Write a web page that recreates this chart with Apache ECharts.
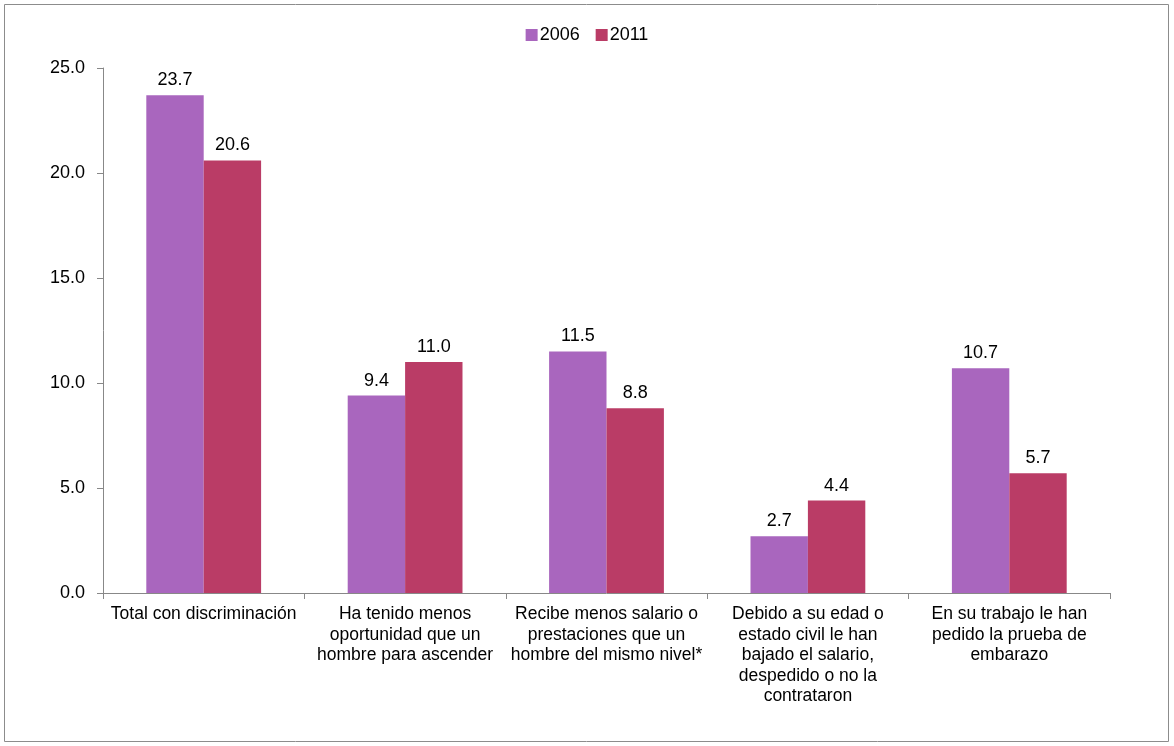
<!DOCTYPE html>
<html><head><meta charset="utf-8">
<script src="https://cdn.jsdelivr.net/npm/echarts@6/dist/echarts.min.js"></script>
<style>html,body{margin:0;padding:0;background:#fff}#c{width:1174px;height:746px}</style>
</head><body><div id="c"></div>
<script>
const categories = [
  "Total con discriminación",
  "Ha tenido menos\noportunidad que un\nhombre para ascender",
  "Recibe menos salario o\nprestaciones que un\nhombre del mismo nivel*",
  "Debido a su edad o\nestado civil le han\nbajado el salario,\ndespedido o no la\ncontrataron",
  "En su trabajo le han\npedido la prueba de\nembarazo"
];
const series2006 = [23.7, 9.4, 11.5, 2.7, 10.7];
const series2011 = [20.6, 11.0, 8.8, 4.4, 5.7];
const yTicks = [0, 5, 10, 15, 20, 25];

const font = "Liberation Sans, Arial, sans-serif";
const chart = echarts.init(document.getElementById('c'), null, {renderer: 'canvas'});
const lbl = {show: true, position: 'top', distance: 6, fontFamily: font, fontSize: 18, color: '#000', formatter: p => p.value.toFixed(1)};
chart.setOption({
  animation: false,
  graphic: [{type: 'rect', shape: {x: 4.5, y: 4.5, width: 1164, height: 737}, style: {fill: 'none', stroke: '#8c8c8c', lineWidth: 1}, silent: true}],
  legend: {top: 21, left: 'center', itemWidth: 12, itemHeight: 12, itemGap: 16, icon: 'rect',
    textStyle: {fontFamily: font, fontSize: 18, color: '#000', padding: [0,0,0,-3]}},
  grid: {left: 103, right: 64, top: 68, bottom: 153, containLabel: false},
  xAxis: {type: 'category', data: categories,
    axisLine: {lineStyle: {color: '#888'}},
    axisTick: {show: true, length: 6, lineStyle: {color: '#888'}},
    axisLabel: {fontFamily: font, fontSize: 17.5, color: '#000', lineHeight: 20.5, margin: 11, interval: 0}},
  yAxis: {type: 'value', min: yTicks[0], max: yTicks[yTicks.length-1], interval: 5,
    axisLine: {show: true, lineStyle: {color: '#888'}},
    axisTick: {show: true, length: 6, lineStyle: {color: '#888'}},
    splitLine: {show: false},
    axisLabel: {fontFamily: font, fontSize: 18, color: '#000', margin: 18, formatter: v => v.toFixed(1)}},
  series: [
    {name: '2006', type: 'bar', data: series2006, barWidth: '28.5%', barGap: '0%', itemStyle: {color: '#A966BE'}, label: lbl},
    {name: '2011', type: 'bar', data: series2011, barWidth: '28.5%', itemStyle: {color: '#BA3C66'}, label: lbl}
  ]
});
</script></body></html>
